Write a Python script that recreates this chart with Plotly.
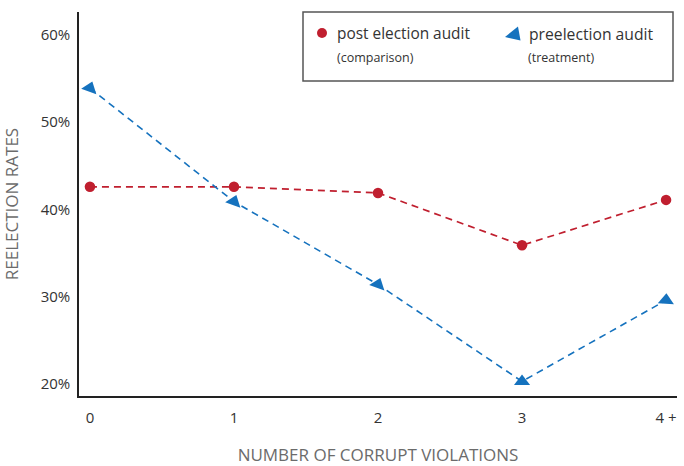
import plotly.graph_objects as go

categories = [0, 1, 2, 3, 4]
tick_labels = ["0", "1", "2", "3", "4 +"]
post_election = [42.6, 42.6, 41.9, 35.9, 41.1]
pre_election = [53.9, 40.9, 31.4, 20.3, 29.6]
y_ticks = [20, 30, 40, 50, 60]
y_tick_labels = ["20%", "30%", "40%", "50%", "60%"]
series_names = ["post election audit", "preelection audit"]
series_notes = ["(comparison)", "(treatment)"]

RED = "#C01F2F"
BLUE = "#1572BE"
FONT = "Open Sans"
W, H = 684, 466
L, R, T, B = 79, 7, 12, 70


def px(x):
    return (x - L) / (W - L - R)


def py(y):
    return (H - B - y) / (H - T - B)


fig = go.Figure()
fig.add_trace(go.Scatter(
    x=categories, y=post_election, mode="lines+markers", showlegend=False,
    name=series_names[0],
    line=dict(color=RED, width=1.7, dash="7px,5px"),
    marker=dict(symbol="circle", size=10.5, color=RED),
))
fig.add_trace(go.Scatter(
    x=categories, y=pre_election, mode="lines+markers", showlegend=False,
    name=series_names[1],
    line=dict(color=BLUE, width=1.6, dash="7px,5px"),
    marker=dict(symbol="triangle-up", size=14, color=BLUE,
                angle=[20, 20, 20, 0, 3]),
))

# legend box drawn manually
shapes = [
    dict(type="rect", xref="paper", yref="paper",
         x0=px(303), x1=px(673), y0=py(81), y1=py(12),
         line=dict(color="#555555", width=1.5), fillcolor="white", layer="above"),
    dict(type="circle", xref="paper", yref="paper",
         x0=px(317), x1=px(327), y0=py(38), y1=py(28),
         line=dict(width=0), fillcolor=RED, layer="above"),
    dict(type="path", xref="paper", yref="paper",
         path=f"M {px(518)},{py(26.5)} L {px(520.5)},{py(40.5)} L {px(505)},{py(37)} Z",
         line=dict(width=0), fillcolor=BLUE, layer="above"),
]
annotations = [
    dict(text=series_names[0], x=px(335), y=py(34), xref="paper", yref="paper",
         xanchor="left", yanchor="middle", showarrow=False,
         font=dict(size=15.4, color="#333333")),
    dict(text=series_notes[0], x=px(335), y=py(57), xref="paper", yref="paper",
         xanchor="left", yanchor="middle", showarrow=False,
         font=dict(size=12.5, color="#333333")),
    dict(text=series_names[1], x=px(527), y=py(34), xref="paper", yref="paper",
         xanchor="left", yanchor="middle", showarrow=False,
         font=dict(size=15.7, color="#333333")),
    dict(text=series_notes[1], x=px(526), y=py(57), xref="paper", yref="paper",
         xanchor="left", yanchor="middle", showarrow=False,
         font=dict(size=12.5, color="#333333")),
]

fig.update_layout(
    width=W, height=H,
    margin=dict(l=L, r=R, t=T, b=B, autoexpand=False),
    paper_bgcolor="white", plot_bgcolor="white",
    font=dict(family=FONT, size=15, color="#333333"),
    showlegend=False,
    shapes=shapes,
    annotations=annotations,
    xaxis=dict(
        range=[-0.076, 4.076], tickmode="array", tickvals=categories,
        ticktext=tick_labels, showgrid=False, zeroline=False,
        showline=True, linecolor="#222222", linewidth=1.5, ticks="",
        ticklabelstandoff=7, automargin=False,
        title=dict(text="NUMBER OF CORRUPT VIOLATIONS", standoff=30,
                   font=dict(size=17, color="#6b6b6b")),
    ),
    yaxis=dict(
        range=[18.63, 62.63], tickmode="array", tickvals=y_ticks,
        ticktext=y_tick_labels, showgrid=False, zeroline=False,
        showline=True, linecolor="#222222", linewidth=1.5, ticks="",
        ticklabelstandoff=4, automargin=False,
        title=dict(text="REELECTION RATES", standoff=20,
                   font=dict(size=17, color="#6b6b6b")),
    ),
)

fig.write_html("out.html", config={"displayModeBar": False},
               post_script="document.body.style.margin='0';")
